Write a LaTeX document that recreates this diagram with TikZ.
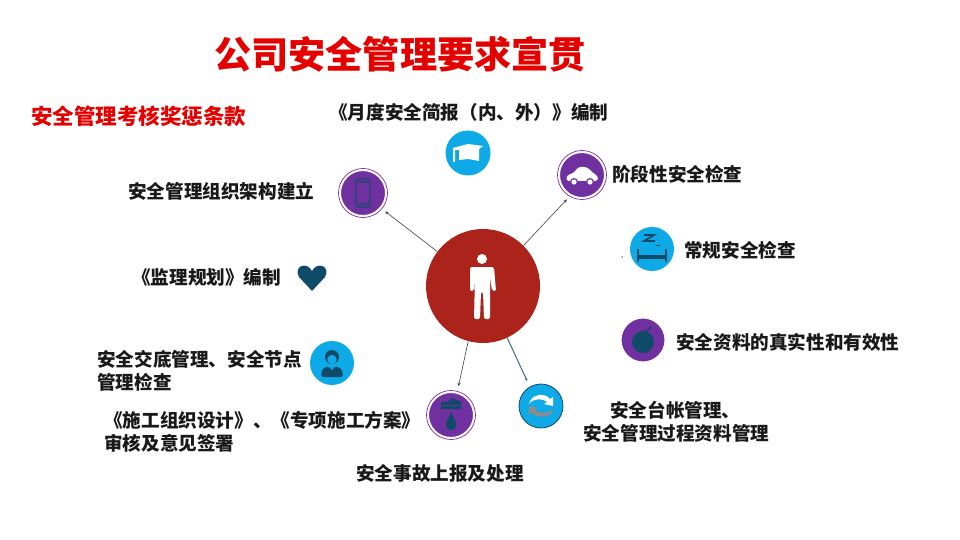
\documentclass[tikz,border=0pt]{standalone}
\usepackage{fontspec}
\setmainfont{Noto Sans CJK SC}
\usetikzlibrary{calc}
\usetikzlibrary{arrows.meta,positioning}

\definecolor{hubred}{RGB}{172,35,28}
\definecolor{iconpurple}{RGB}{112,48,160}
\definecolor{iconblue}{RGB}{14,170,232}
\definecolor{icondark}{RGB}{15,75,105}
\definecolor{linkteal}{RGB}{60,110,120}

\tikzset{
    label text/.style={font=\fontsize{18.6}{23}\selectfont\bfseries, text=black!90, inner sep=0pt, align=left},
    blue icon/.style={circle, fill=iconblue, draw=none, minimum size=#1, inner sep=0pt},
    purple icon/.style={circle, fill=iconpurple, draw=white, line width=1pt, minimum size=#1, inner sep=0pt},
    ring/.style={circle, draw=iconpurple, line width=0.7pt, minimum size=#1, inner sep=0pt},
    link/.style={-{Stealth[length=3.5pt,width=3pt]}, draw=black!75, line width=0.6pt, shorten >=5pt}
}

\begin{document}
\begin{tikzpicture}[x=1pt,y=-1pt]
    \useasboundingbox (0,0) rectangle (960,540);

    % Titles
    \node [font=\fontsize{37.2}{40}\selectfont\bfseries, text=red!90!black, inner sep=0pt] (title) at (400,54) {公司安全管理要求宣贯};
    \node [font=\fontsize{21.5}{24}\selectfont\bfseries, text=red!90!black, inner sep=0pt, anchor=west] (subtitle) at (31,116) {安全管理考核奖惩条款};

    % Centre circle
    \node [circle, fill=hubred, minimum size=114pt, inner sep=0pt] (hub) at (483,286) {};

    % Outlined purple icons
    \foreach \name/\x/\y in {phone/363/193, car/582/175, drop/451/415} {
        \node [ring=49pt] (\name ring) at (\x,\y) {};
        \node [purple icon=45pt] (\name) at (\x,\y) {};
    }
    % Plain icons
    \node [blue icon=45pt] (cap) at (468,153) {};
    \node [blue icon=44pt] (woman) at (332,363) {};
    \node [blue icon=44pt] (bed) at (652,249) {};
    \node [purple icon=44pt] (apple) at (643,340) {};
    \node [blue icon=44pt, draw=icondark, line width=0.8pt] (swirl) at (541,406) {};
    \node [inner sep=0pt, minimum size=1pt] (heart) at (312,278) {};
    \node [circle, fill=icondark, inner sep=0pt, minimum size=1.5pt] (dot) at (622,257) {};

    % Connectors
    \draw [link, shorten >=4pt] (hub.143) -- (phonering.-40);
    \draw [link, shorten >=4pt] (hub.45) -- (carring.240);
    \draw [link] (hub.255) -- (dropring.75);
    \draw [link, draw=linkteal, line width=1pt, shorten >=6pt] (hub.-65) -- (swirl.120);

    % Person
    \begin{scope}[shift={(hub)}]
        \fill [white] (-1,-27) circle (5);
        \fill [white, rounded corners=2pt] (-13,-19) -- (11,-19) -- (13,5) -- (9,5) -- (7,-10) -- (7,33) -- (1,33) -- (0,6) -- (-2,6) -- (-3,33) -- (-9,33) -- (-8,-10) -- (-9,5) -- (-13,5) -- cycle;
    \end{scope}

    % Cap
    \begin{scope}[shift={(cap)}]
        \fill [white] (-15,-5) -- (0,-9) -- (15,-7) -- (11,-4) -- (11,8) -- (0,6) -- (-9,7) -- (-9,-3) -- (-13,-3) -- (-13,9) -- (-15,9) -- cycle;
    \end{scope}

    % Phone
    \begin{scope}[shift={(phone)}]
        \draw [icondark!60!iconpurple, line width=1.6pt, rounded corners=1.5pt] (-7,-14) rectangle (7,14);
        \draw [icondark!60!iconpurple, line width=1.6pt] (-7,-11) -- (7,-11) (-7,11) -- (7,11);
    \end{scope}

    % Car
    \begin{scope}[shift={(car)}]
        \fill [white, rounded corners=3pt] (-16,6) -- (-15,0) -- (-8,-2) -- (-4,-8) -- (5,-8) -- (11,-2) -- (16,1) -- (16,6) -- cycle;
        \fill [iconpurple] (-8,7) circle (4) (8,7) circle (4);
        \fill [white] (-8,7) circle (2.6) (8,7) circle (2.6);
    \end{scope}

    % Bed
    \begin{scope}[shift={(bed)}]
        \draw [icondark, line width=1.8pt] (-8,-14) -- (2,-14) -- (-8,-8) -- (3,-8);
        \draw [icondark, line width=0.9pt] (4,-4) -- (8,-4);
        \draw [icondark, line width=2.4pt] (-14,0) -- (-14,13) (14,0) -- (14,13);
        \draw [icondark, line width=4pt] (-14,8) -- (14,8);
    \end{scope}

    % Apple
    \begin{scope}[shift={(apple)}]
        \fill [icondark] (0,2) circle (11);
        \draw [icondark, line width=1.2pt] (2,-8) -- (8,-13);
    \end{scope}

    % Swirl
    \begin{scope}[shift={(swirl)}]
        \fill [white] (-12,-2) .. controls (-10,-12) and (4,-14) .. (9,-7) -- (12,-9) -- (12,0) -- (3,-2) -- (6,-4) .. controls (2,-8) and (-8,-8) .. (-12,-2) -- cycle;
        \fill [black!45] (13,2) .. controls (11,12) and (-3,13) .. (-9,7) -- (-12,9) -- (-12,0) -- (-3,2) -- (-6,4) .. controls (-2,8) and (8,8) .. (13,2) -- cycle;
    \end{scope}

    % Drop
    \begin{scope}[shift={(drop)}]
        \fill [icondark] (-10,-13) -- (-3,-13) -- (1,-17) -- (6,-15) -- (10,-13) -- (10,-6) -- (-10,-6) -- cycle;
        \fill [iconpurple] (-9,-10) rectangle (9,-9);
        \fill [icondark] (-5,10) .. controls (-5,5) and (-2,3) .. (0,-3) .. controls (2,3) and (5,5) .. (5,10) .. controls (5,17) and (-5,17) .. (-5,10) -- cycle;
    \end{scope}

    % Woman
    \begin{scope}[shift={(woman)}]
        \fill [icondark] (0,-6) circle (7);
        \fill [iconblue] (0,-3.5) circle (4.6);
        \fill [icondark, rounded corners=2pt] (-11,14) -- (-10,6) -- (-3,3) -- (0,8) -- (3,3) -- (10,6) -- (11,14) -- cycle;
    \end{scope}

    % Heart
    \begin{scope}[shift={(heart)}]
        \fill [icondark] (0,13) -- (-13,-1) .. controls (-19,-12) and (-5,-17) .. (0,-7) .. controls (5,-17) and (19,-12) .. (13,-1) -- cycle;
    \end{scope}

    % Labels
    \foreach \name/\x/\y/\txt in {
        lmonth/329/112/《月度安全简报（内、外）》编制,
        lcar/612/174/阶段性安全检查,
        lbed/684/250/常规安全检查,
        lapple/676/342/安全资料的真实性和有效性,
        ldrop/356/473/安全事故上报及处理,
        lphone/128/191/安全管理组织架构建立,
        lheart/132/277/《监理规划》编制} {
        \node [label text, anchor=west] (\name) at (\x,\y) {\txt};
    }
    \node [label text, anchor=west] (lwoman) at (97,370.5) {安全交底管理、安全节点\\管理检查};
    \node [label text, anchor=west] (lplan) at (104,431.5) {《施工组织设计》、《专项施工方案》\\审核及意见签署};
    \node [label text, anchor=west] (lswirl) at (583,422) {\hspace{27pt}安全台帐管理、\\安全管理过程资料管理};
\end{tikzpicture}
\end{document}
